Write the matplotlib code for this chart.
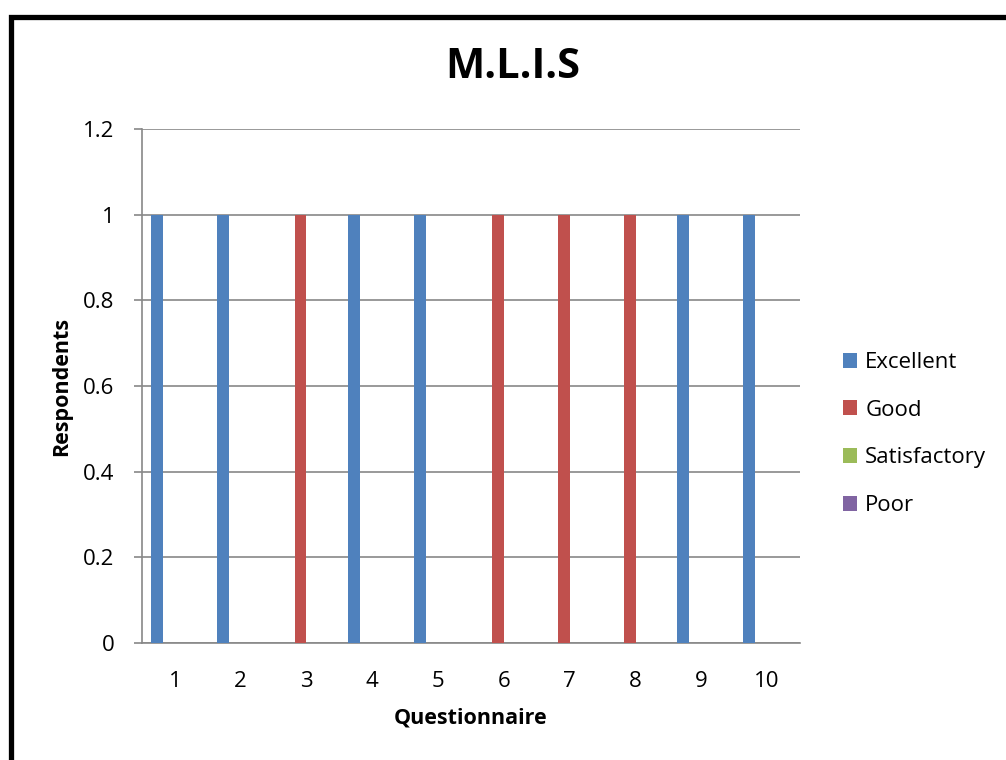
import matplotlib

matplotlib.use("Agg")
import matplotlib.pyplot as plt
import numpy as np
from matplotlib.patches import Rectangle

# data
questions = ["1", "2", "3", "4", "5", "6", "7", "8", "9", "10"]
series_names = ["Excellent", "Good", "Satisfactory", "Poor"]
excellent = [1, 1, 0, 1, 1, 0, 0, 0, 1, 1]
good = [0, 0, 1, 0, 0, 1, 1, 1, 0, 0]
satisfactory = [0, 0, 0, 0, 0, 0, 0, 0, 0, 0]
poor = [0, 0, 0, 0, 0, 0, 0, 0, 0, 0]
y_ticks = [0, 0.2, 0.4, 0.6, 0.8, 1, 1.2]
y_tick_labels = ["0", "0.2", "0.4", "0.6", "0.8", "1", "1.2"]

colors = ["#4F81BD", "#C0504D", "#9BBB59", "#8064A2"]
grid_color = "#888888"

plt.rcParams["font.family"] = ["Open Sans", "DejaVu Sans"]

W, H = 1006, 760
fig = plt.figure(figsize=(W / 100, H / 100), dpi=100)
ax = fig.add_axes([142 / W, 1 - 643 / H, (800 - 142) / W, (643 - 129) / H])

x = np.arange(1, len(questions) + 1)
bar_w = 1 / 5.5
values = [excellent, good, satisfactory, poor]
for i, (name, vals, col) in enumerate(zip(series_names, values, colors)):
    ax.bar(x + (i - 1.5) * bar_w, vals, width=bar_w, color=col, label=name, zorder=3)

ax.set_xlim(0.5, len(questions) + 0.5)
ax.set_ylim(0, 1.2)
ax.set_yticks(y_ticks)
ax.set_yticklabels(y_tick_labels, fontsize=16)
ax.set_xticks(x)
ax.set_xticklabels(questions, fontsize=16)
ax.tick_params(axis="y", length=6, width=1.2, color=grid_color, pad=14)
ax.tick_params(axis="x", length=0, pad=20)
ax.grid(axis="y", color=grid_color, linewidth=1.2, zorder=0)
for side in ["top", "right"]:
    ax.spines[side].set_visible(False)
for side in ["left", "bottom"]:
    ax.spines[side].set_color(grid_color)
    ax.spines[side].set_linewidth(1.2)

fig.text(62 / W, 1 - 386 / H, "Respondents", rotation=90, ha="center", va="center",
         fontsize=15.5, fontweight="bold")
fig.text(471 / W, 1 - 718 / H, "Questionnaire", ha="center", va="center",
         fontsize=15.5, fontweight="bold")
fig.text(513 / W, 1 - 67 / H, "M.L.I.S", ha="center", va="center",
         fontsize=30, fontweight="bold")

fig.legend(loc="center left", bbox_to_anchor=(823 / W, 1 - 434 / H), frameon=False,
           fontsize=16, handlelength=0.65, handleheight=0.65, handletextpad=0.35,
           labelspacing=1.2)

# thick outer border, cut off at right and bottom like the reference
fig.add_artist(Rectangle((10.5 / W, -0.1), 1.2, 1 - 16.5 / H + 0.1,
                         transform=fig.transFigure, fill=False,
                         edgecolor="black", linewidth=3.8, clip_on=False))

fig.savefig("out.png", dpi=100)
plt.close(fig)
